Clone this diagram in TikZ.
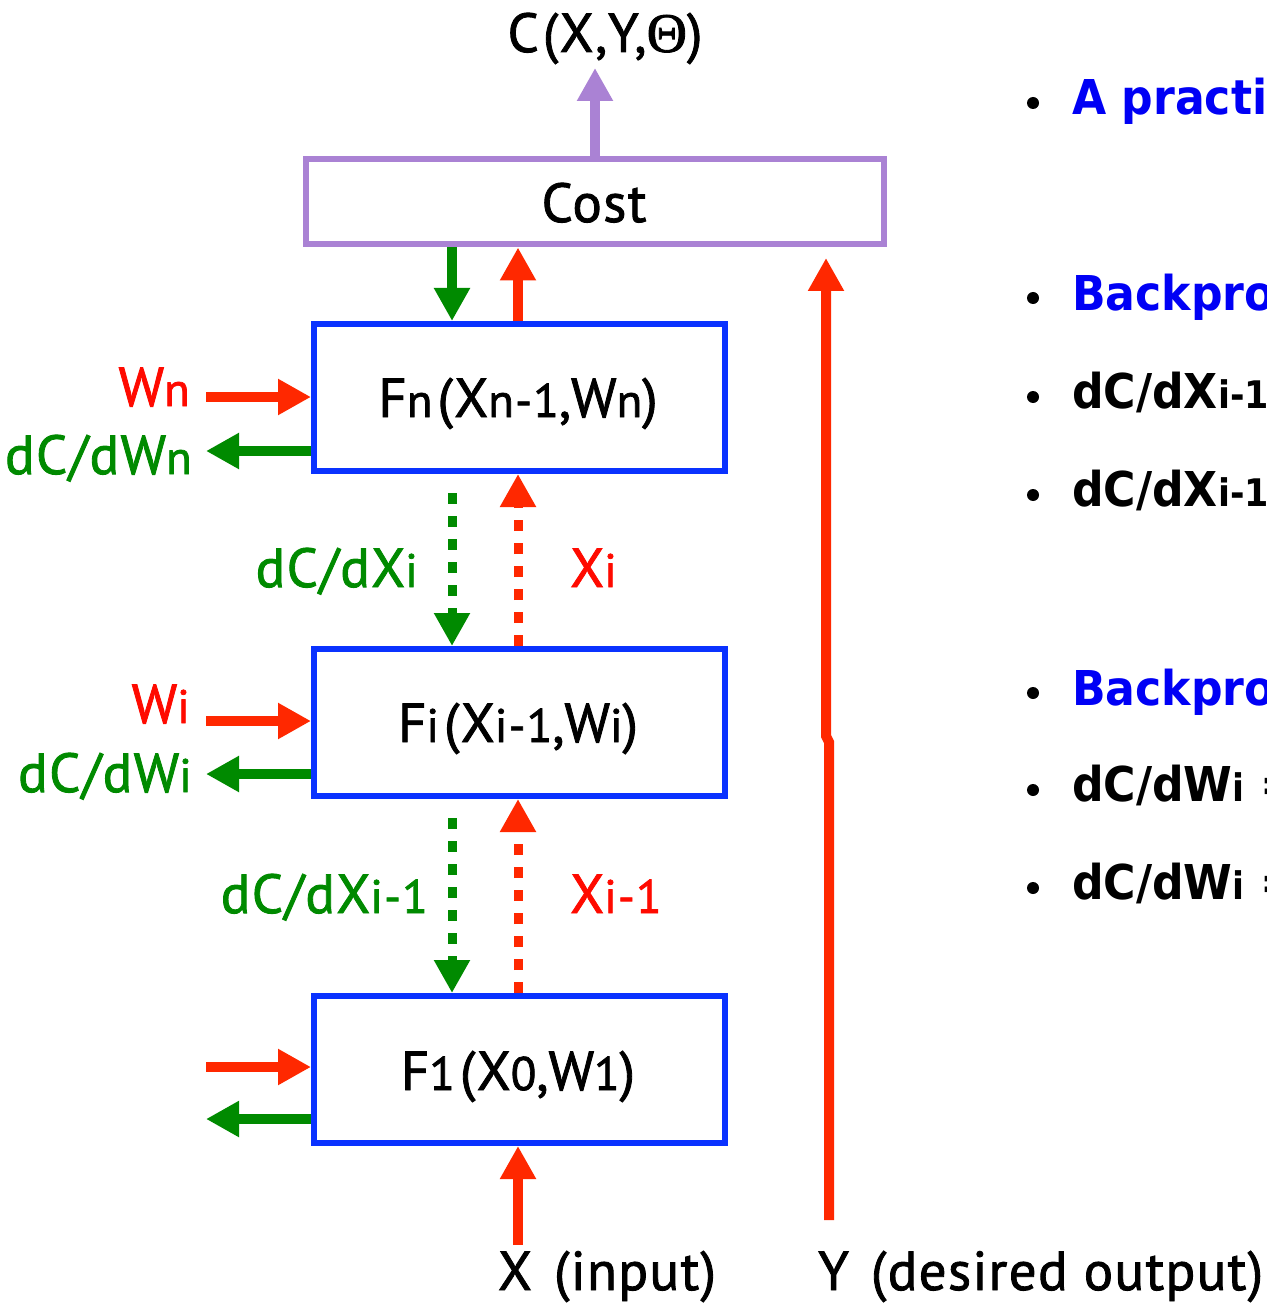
\documentclass[tikz,border=0pt]{standalone}
\usepackage{fontspec}
\setmainfont{PT Sans}[FakeBold=1.5, LetterSpace=2.5]
\newfontfamily\rfont{DejaVu Sans}[FakeStretch=0.92]
\newfontfamily\thfont{Liberation Serif}[FakeBold=1.5]
\usetikzlibrary{arrows.meta}
\definecolor{ared}{RGB}{255,40,0}
\definecolor{tred}{RGB}{255,10,0}
\definecolor{agreen}{RGB}{0,138,0}
\definecolor{bblue}{RGB}{10,50,255}
\definecolor{cpurp}{RGB}{170,130,212}
\definecolor{tblue}{RGB}{0,0,245}
\newcommand\lo[1]{{\fontsize{47}{47}\selectfont #1}}
\newcommand\rlo[1]{{\fontsize{38}{38}\selectfont #1}}
\tikzset{
  fbox/.style={draw=bblue, line width=6pt, minimum width=411pt, minimum height=147pt, inner sep=0pt},
  cbox/.style={draw=cpurp, line width=6pt, minimum width=578pt, minimum height=85pt, inner sep=0pt},
  lbl/.style={inner sep=0pt, font=\fontsize{55}{55}\selectfont},
  rtxt/.style={inner sep=0pt, anchor=base west, font=\rfont\bfseries\fontsize{48}{48}\selectfont},
  sol/.style={line width=10pt, -{Triangle[length=33pt,width=34pt]}},
  dot/.style={line width=9pt, dash pattern=on 11pt off 12pt, -{Triangle[length=33pt,width=34pt]}},
  bul/.style={fill=black, circle, inner sep=0pt, minimum size=12pt}
}
\begin{document}
\begin{tikzpicture}[x=1pt,y=-1pt]
\useasboundingbox (0,0) rectangle (1266,1305);
\fill[white] (0,0) rectangle (1266,1305);
\clip (0,0) rectangle (1266,1305);

% boxes
\node[cbox] (cost) at (594.5,202) {};
\node[fbox] (fn) at (519.5,397.5) {};
\node[fbox] (fi) at (519.5,722.5) {};
\node[fbox] (f1) at (519.5,1069.5) {};

% box labels
\node[lbl, anchor=base] (costl) at (594,222) {Cost};
\node[lbl, anchor=base] (ctext) at (605,52) {C\hspace{4pt}(X,Y,{\thfont\fontsize{56}{56}\selectfont Θ})};
\node[lbl, anchor=base] (fnl) at (518,417) {F\lo{n}\hspace{5pt}(X\lo{n-1},W\lo{n})};
\node[lbl, anchor=base] (fil) at (518,742) {F\lo{i}\hspace{5pt}(X\lo{i-1},W\lo{i})};
\node[lbl, anchor=base] (f1l) at (518,1090) {F\lo{1}\hspace{5pt}(X\lo{0},W\lo{1})};

% x positions
\coordinate (gx) at (452,0);
\coordinate (rx) at (518,0);
\coordinate (px) at (595,0);

% cost output
\coordinate (ctip) at (595,68);
\draw[sol, cpurp] (cost.north -| px) -- (ctip);

% between cost and Fn
\draw[sol, agreen] (cost.south -| gx) -- (fn.north -| gx);
\draw[sol, ared] (fn.north -| rx) -- (cost.south -| rx);

% Y line
\coordinate (ybot) at (829,1220);
\coordinate (ymid) at (829,742);
\coordinate (ymid2) at (826,736);
\coordinate (ytop) at (826,258);
\draw[sol, ared] (ybot) -- (ymid) -- (ymid2) -- (ytop);

% dotted between Fn and Fi
\draw[dot, agreen] ([yshift=-19pt]fn.south -| gx) -- (fi.north -| gx);
\draw[dot, ared] (fi.north -| rx) -- (fn.south -| rx);
% dotted between Fi and F1
\draw[dot, agreen] ([yshift=-19pt]fi.south -| gx) -- (f1.north -| gx);
\draw[dot, ared] (f1.north -| rx) -- (fi.south -| rx);

% input X
\coordinate (xbot) at (518,1245);
\draw[sol, ared] (xbot) -- (f1.south -| rx);

% side arrows
\coordinate (wn0) at (206,397);
\coordinate (gn0) at (206,451);
\coordinate (wi0) at (206,721);
\coordinate (gi0) at (206,774);
\coordinate (w10) at (206,1067);
\coordinate (g10) at (206,1119);
\draw[sol, ared] (wn0) -- (wn0 -| fn.west);
\draw[sol, agreen] (gn0 -| fn.west) -- (gn0);
\draw[sol, ared] (wi0) -- (wi0 -| fi.west);
\draw[sol, agreen] (gi0 -| fi.west) -- (gi0);
\draw[sol, ared] (w10) -- (w10 -| f1.west);
\draw[sol, agreen] (g10 -| f1.west) -- (g10);

% side labels
\node[lbl, anchor=base east, text=tred] (wnl) at (190,406) {W\lo{n}};
\node[lbl, anchor=base east, text=agreen] (gnl) at (192,474) {dC/dW\lo{n}};
\node[lbl, anchor=base east, text=tred] (wil) at (190,723) {W\lo{i}};
\node[lbl, anchor=base east, text=agreen] (gil) at (192,792) {dC/dW\lo{i}};
\node[lbl, anchor=base east, text=agreen] (gxil) at (418,587) {dC/dX\lo{i}};
\node[lbl, anchor=base west, text=tred] (xil) at (570,587) {X\lo{i}};
\node[lbl, anchor=base east, text=agreen] (gxi1l) at (428,913) {dC/dX\lo{i-1}};
\node[lbl, anchor=base west, text=tred] (xi1l) at (570,913) {X\lo{i-1}};

% bottom labels
\node[lbl, anchor=base] (xin) at (607,1290) {X\hspace{6pt} (input)};
\node[lbl, anchor=base west] (yout) at (818,1290) {Y\hspace{6pt} (desired output)};

% right-hand text (cut off by the frame)
\node[bul] (b1) at (1033,103) {};
\node[rtxt, text=tblue] (r1) at (1072,115) {A practic};
\node[bul] (b2) at (1033,298) {};
\node[rtxt, text=tblue] (r2) at (1072,310) {Backpro};
\node[bul] (b3) at (1033,397) {};
\node[rtxt] (r3) at (1072,408) {dC/dX\rlo{i-1}};
\node[bul] (b4) at (1033,495) {};
\node[rtxt] (r4) at (1072,506) {dC/dX\rlo{i-1}};
\node[bul] (b5) at (1033,693) {};
\node[rtxt, text=tblue] (r5) at (1072,705) {Backpro};
\node[bul] (b6) at (1033,790) {};
\node[rtxt] (r6) at (1072,801) {dC/dW\rlo{i} =};
\node[bul] (b7) at (1033,888) {};
\node[rtxt] (r7) at (1072,899) {dC/dW\rlo{i} =};
\end{tikzpicture}
\end{document}
